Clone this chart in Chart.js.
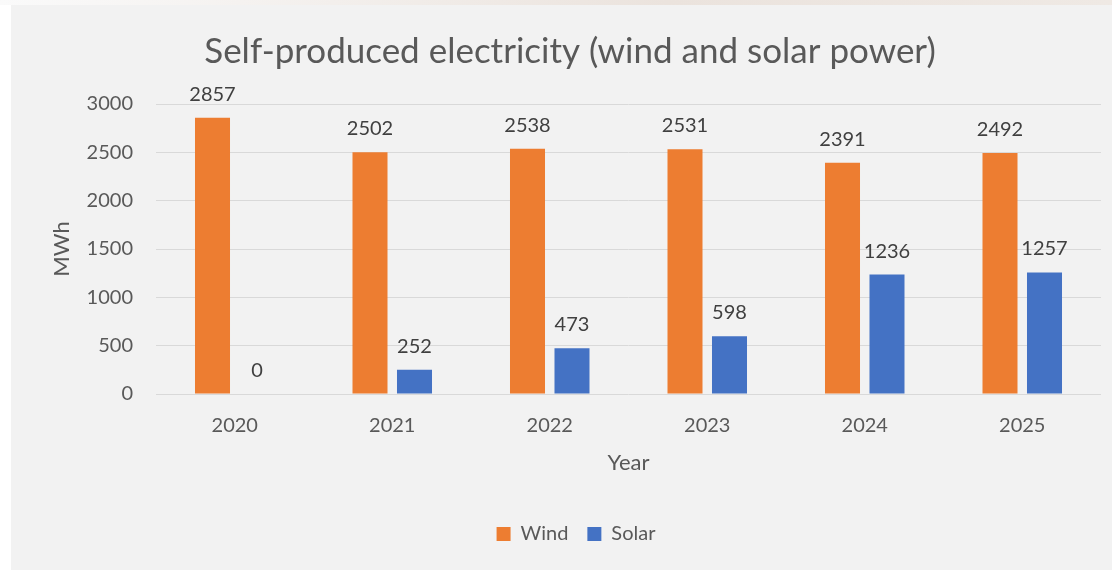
<!DOCTYPE html>
<html>
<head>
<meta charset="utf-8">
<script src="https://cdn.jsdelivr.net/npm/chart.js@4.4.1/dist/chart.umd.min.js"></script>
<style>
  html, body { margin: 0; padding: 0; background: #fff; }
  body { width: 1112px; height: 570px; position: relative; overflow: hidden; font-family: Lato, sans-serif; }
  .strip { position: absolute; left: 0; top: 0; width: 1112px; height: 5px;
    background: linear-gradient(90deg, #fafafa 0%, #f3efec 30%, #ebe3dd 60%, #efe9e4 100%); }
  .panel { position: absolute; left: 11px; top: 5px; right: 0; bottom: 0; background: #f2f2f2; }
  #wrap { position: absolute; left: 0; top: 0; width: 1112px; height: 570px; }
</style>
</head>
<body>
<div class="strip"></div>
<div class="panel"></div>
<div id="wrap"><canvas id="chart"></canvas></div>
<script>
const years = ["2020", "2021", "2022", "2023", "2024", "2025"];
const windMWh = [2857, 2502, 2538, 2531, 2391, 2492];
const solarMWh = [0, 252, 473, 598, 1236, 1257];
const yTicks = [0, 500, 1000, 1500, 2000, 2500, 3000];

const textColor = "#595959";

// value labels above each bar
const barLabels = {
  id: "barLabels",
  afterDatasetsDraw(chart) {
    const ctx = chart.ctx;
    ctx.save();
    ctx.font = "20px Lato";
    ctx.fillStyle = "#404040";
    ctx.textAlign = "center";
    ctx.textBaseline = "alphabetic";
    chart.data.datasets.forEach((ds, i) => {
      const meta = chart.getDatasetMeta(i);
      meta.data.forEach((bar, j) => {
        ctx.fillText(String(ds.data[j]), bar.x, bar.y - 17);
      });
    });
    ctx.restore();
  }
};

// title and legend sit a bit right of centre in the original
const nudgeBoxes = {
  id: "nudgeBoxes",
  afterLayout(chart) {
    const lg = chart.legend;
    if (lg) { lg.left += 20; lg.right += 20; }
    const tb = chart.titleBlock;
    if (tb) { tb.left += 14; tb.right += 14; }
  }
};

const ctx = document.getElementById("chart").getContext("2d");
new Chart(ctx, {
  type: "bar",
  data: {
    labels: years,
    datasets: [
      {
        label: "Wind",
        data: windMWh,
        backgroundColor: "#ed7d31",
        categoryPercentage: 0.565,
        barPercentage: 0.787
      },
      {
        label: "Solar",
        data: solarMWh,
        backgroundColor: "#4472c4",
        categoryPercentage: 0.565,
        barPercentage: 0.787
      }
    ]
  },
  options: {
    responsive: true,
    maintainAspectRatio: false,
    animation: false,
    layout: { padding: { left: 11, right: 11, top: 0, bottom: 16 } },
    plugins: {
      title: {
        display: true,
        text: "Self-produced electricity (wind and solar power)",
        color: textColor,
        font: { family: "Lato", size: 35, weight: "normal" },
        padding: { top: 31, bottom: 31 }
      },
      legend: {
        position: "bottom",
        labels: {
          boxWidth: 14,
          boxHeight: 14,
          padding: 19,
          color: textColor,
          font: { family: "Lato", size: 20 }
        }
      },
      tooltip: { enabled: false }
    },
    scales: {
      x: {
        grid: { display: false },
        border: { display: false },
        ticks: { color: textColor, font: { family: "Lato", size: 20 }, padding: 12 },
        title: {
          display: true,
          text: "Year",
          color: textColor,
          font: { family: "Lato", size: 22 },
          padding: { top: 0, bottom: 29 }
        },
        afterFit(scale) { scale.height = 111; }
      },
      y: {
        min: 0,
        max: 3000,
        afterBuildTicks(scale) { scale.ticks = yTicks.map(v => ({ value: v })); },
        grid: { color: "#d9d9d9", drawTicks: false },
        border: { display: false },
        ticks: {
          color: textColor,
          font: { family: "Lato", size: 20 },
          padding: 23,
          callback: v => String(v)
        },
        title: {
          display: true,
          text: "MWh",
          color: textColor,
          font: { family: "Lato", size: 22 },
          padding: { top: 38, bottom: 0 }
        },
        afterFit(scale) { scale.width = 145; }
      }
    }
  },
  plugins: [barLabels, nudgeBoxes]
});
</script>
</body>
</html>
